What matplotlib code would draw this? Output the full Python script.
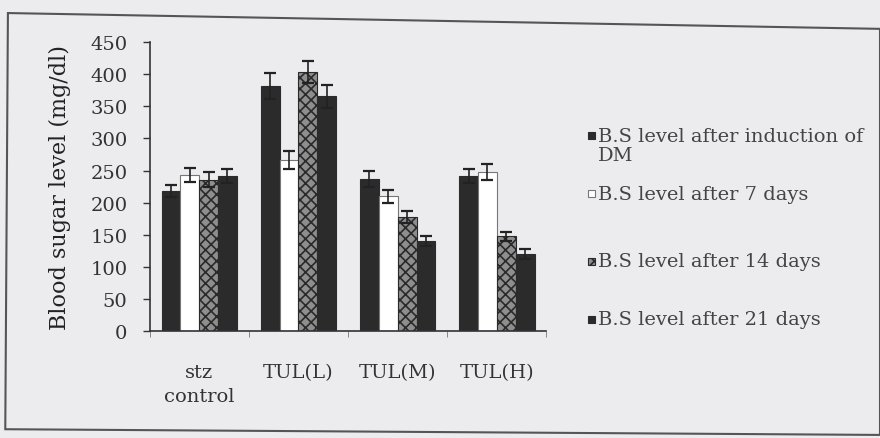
import matplotlib
matplotlib.use("Agg")
import matplotlib.pyplot as plt
import numpy as np
from matplotlib.patches import Polygon, Rectangle

groups = ["stz\ncontrol", "TUL(L)", "TUL(M)", "TUL(H)"]
series = ["B.S level after induction of", "B.S level after 7 days",
          "B.S level after 14 days", "B.S level after 21 days"]

# blood sugar (mg/dl), one list per time point
bs_dm = [218, 382, 237, 241]
bs_7 = [243, 267, 210, 248]
bs_14 = [236, 403, 178, 148]
bs_21 = [241, 366, 140, 120]

err_dm = [10, 20, 12, 11]
err_7 = [11, 14, 10, 12]
err_14 = [12, 17, 9, 7]
err_21 = [11, 18, 8, 8]

values = [bs_dm, bs_7, bs_14, bs_21]
errors = [err_dm, err_7, err_14, err_21]

bg = "#ececef"
styles = [
    dict(color="#2b2b2b", edgecolor="#2b2b2b"),
    dict(color="white", edgecolor="#777777"),
    dict(color="#8e8e8e", edgecolor="#2a2a2a", hatch="xxx"),
    dict(color="#2b2b2b", edgecolor="#2b2b2b"),
]

plt.rcParams["font.family"] = ["DejaVu Serif"]
plt.rcParams["hatch.linewidth"] = 1.2

fig = plt.figure(figsize=(8.8, 4.39), dpi=100, facecolor=bg)
ax = fig.add_axes([0.170, 0.2437, 0.451, 0.658])
ax.set_facecolor(bg)

x = np.arange(len(groups))
w = 0.19
for i, (vals, errs, st) in enumerate(zip(values, errors, styles)):
    pos = x + (i - 1.5) * w
    ax.bar(pos, vals, width=w, linewidth=0.8, **st)
    ax.errorbar(pos, vals, yerr=errs, fmt="none", ecolor="#222222",
                elinewidth=1.2, capsize=4, capthick=1.6)

ax.set_xlim(-0.5, 3.5)
ax.set_ylim(0, 450)
ax.set_yticks(range(0, 451, 50))
ax.tick_params(axis="y", labelsize=14, colors="#333333", length=5, width=1,
               pad=11)
ax.set_xticks(x)
ax.set_xticklabels(groups, fontsize=14, color="#333333", linespacing=1.45)
ax.tick_params(axis="x", length=0, pad=23)
ax.set_xticks(np.arange(-0.5, 3.6, 1), minor=True)
ax.tick_params(axis="x", which="minor", length=4, color="#777777")
for s in ["top", "right"]:
    ax.spines[s].set_visible(False)
for s in ["left", "bottom"]:
    ax.spines[s].set_color("#333333")
    ax.spines[s].set_linewidth(1.2)
ax.set_ylabel("Blood sugar level (mg/dl)", fontsize=16, color="#222222",
              labelpad=14)

# legend drawn as text with small swatches
leg_y = [0.688, 0.556, 0.403, 0.271]
for lbl, st, yy in zip(series, styles, leg_y):
    fig.patches.append(Rectangle((0.668, yy - 0.008), 0.008, 0.016,
                                 transform=fig.transFigure, figure=fig,
                                 facecolor=st["color"], edgecolor=st["edgecolor"],
                                 hatch=st.get("hatch"), linewidth=0.8))
    fig.text(0.680, yy, lbl, fontsize=14, color="#444444", va="center")
fig.text(0.680, 0.645, "DM", fontsize=14, color="#444444", va="center")

# frame around the whole chart
frame = Polygon([[0.009, 0.968], [1.0, 0.932], [1.0, 0.007], [0.006, 0.020]],
                closed=True, fill=False, edgecolor="#555555", linewidth=1.5,
                transform=fig.transFigure)
fig.patches.append(frame)

fig.savefig("out.png", dpi=100, facecolor=bg)
